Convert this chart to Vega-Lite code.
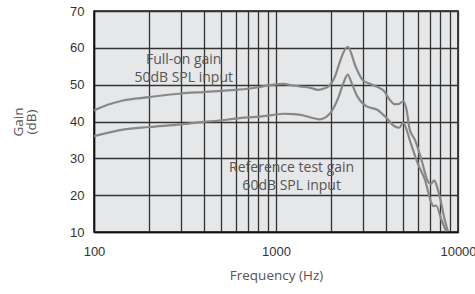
{
  "$schema": "https://vega.github.io/schema/vega-lite/v6.json",
  "autosize": "none",
  "width": 364,
  "height": 221,
  "padding": {"left": 94, "top": 11, "right": 17, "bottom": 62},
  "background": "white",
  "config": {
    "view": {"fill": "#e6e7e8", "stroke": "#111111", "strokeWidth": 1.5},
    "axis": {
      "gridColor": "#333333",
      "gridWidth": 1.3,
      "gridOpacity": 1,
      "domainColor": "#111111",
      "domainWidth": 1.5,
      "ticks": false,
      "labelFont": "Liberation Sans",
      "labelFontSize": 13,
      "labelColor": "#333333",
      "titleFont": "Open Sans",
      "titleFontWeight": "normal",
      "titleFontSize": 13.5,
      "titleColor": "#555555"
    }
  },
  "datasets": {
    "curves": [
      {"freq": 100, "gain": 43.0, "series": "Full-on gain"},
      {"freq": 120, "gain": 44.6, "series": "Full-on gain"},
      {"freq": 144, "gain": 45.7, "series": "Full-on gain"},
      {"freq": 200, "gain": 46.6, "series": "Full-on gain"},
      {"freq": 300, "gain": 47.6, "series": "Full-on gain"},
      {"freq": 400, "gain": 48.0, "series": "Full-on gain"},
      {"freq": 500, "gain": 48.3, "series": "Full-on gain"},
      {"freq": 600, "gain": 48.6, "series": "Full-on gain"},
      {"freq": 700, "gain": 48.9, "series": "Full-on gain"},
      {"freq": 800, "gain": 49.3, "series": "Full-on gain"},
      {"freq": 900, "gain": 49.8, "series": "Full-on gain"},
      {"freq": 1000, "gain": 50.1, "series": "Full-on gain"},
      {"freq": 1100, "gain": 50.2, "series": "Full-on gain"},
      {"freq": 1200, "gain": 49.9, "series": "Full-on gain"},
      {"freq": 1350, "gain": 49.5, "series": "Full-on gain"},
      {"freq": 1530, "gain": 49.2, "series": "Full-on gain"},
      {"freq": 1700, "gain": 48.6, "series": "Full-on gain"},
      {"freq": 1850, "gain": 49.0, "series": "Full-on gain"},
      {"freq": 1970, "gain": 49.8, "series": "Full-on gain"},
      {"freq": 2100, "gain": 52.0, "series": "Full-on gain"},
      {"freq": 2220, "gain": 55.5, "series": "Full-on gain"},
      {"freq": 2350, "gain": 58.8, "series": "Full-on gain"},
      {"freq": 2480, "gain": 60.3, "series": "Full-on gain"},
      {"freq": 2600, "gain": 58.3, "series": "Full-on gain"},
      {"freq": 2700, "gain": 55.7, "series": "Full-on gain"},
      {"freq": 2850, "gain": 53.0, "series": "Full-on gain"},
      {"freq": 3000, "gain": 51.2, "series": "Full-on gain"},
      {"freq": 3300, "gain": 50.2, "series": "Full-on gain"},
      {"freq": 3600, "gain": 49.4, "series": "Full-on gain"},
      {"freq": 3900, "gain": 48.4, "series": "Full-on gain"},
      {"freq": 4200, "gain": 46.0, "series": "Full-on gain"},
      {"freq": 4500, "gain": 44.7, "series": "Full-on gain"},
      {"freq": 4750, "gain": 44.8, "series": "Full-on gain"},
      {"freq": 5000, "gain": 45.5, "series": "Full-on gain"},
      {"freq": 5200, "gain": 43.5, "series": "Full-on gain"},
      {"freq": 5430, "gain": 37.8, "series": "Full-on gain"},
      {"freq": 5800, "gain": 35.0, "series": "Full-on gain"},
      {"freq": 6300, "gain": 29.6, "series": "Full-on gain"},
      {"freq": 6840, "gain": 23.7, "series": "Full-on gain"},
      {"freq": 7100, "gain": 23.0, "series": "Full-on gain"},
      {"freq": 7400, "gain": 24.0, "series": "Full-on gain"},
      {"freq": 7700, "gain": 22.0, "series": "Full-on gain"},
      {"freq": 7930, "gain": 19.7, "series": "Full-on gain"},
      {"freq": 8450, "gain": 13.4, "series": "Full-on gain"},
      {"freq": 8800, "gain": 10.2, "series": "Full-on gain"},
      {"freq": 100, "gain": 36.0, "series": "Reference test gain"},
      {"freq": 144, "gain": 37.8, "series": "Reference test gain"},
      {"freq": 200, "gain": 38.5, "series": "Reference test gain"},
      {"freq": 300, "gain": 39.2, "series": "Reference test gain"},
      {"freq": 400, "gain": 39.9, "series": "Reference test gain"},
      {"freq": 500, "gain": 40.3, "series": "Reference test gain"},
      {"freq": 600, "gain": 40.8, "series": "Reference test gain"},
      {"freq": 700, "gain": 41.1, "series": "Reference test gain"},
      {"freq": 800, "gain": 41.3, "series": "Reference test gain"},
      {"freq": 900, "gain": 41.6, "series": "Reference test gain"},
      {"freq": 1000, "gain": 41.9, "series": "Reference test gain"},
      {"freq": 1100, "gain": 42.1, "series": "Reference test gain"},
      {"freq": 1240, "gain": 42.0, "series": "Reference test gain"},
      {"freq": 1400, "gain": 41.7, "series": "Reference test gain"},
      {"freq": 1550, "gain": 41.1, "series": "Reference test gain"},
      {"freq": 1740, "gain": 40.6, "series": "Reference test gain"},
      {"freq": 1880, "gain": 41.2, "series": "Reference test gain"},
      {"freq": 2000, "gain": 42.5, "series": "Reference test gain"},
      {"freq": 2200, "gain": 46.5, "series": "Reference test gain"},
      {"freq": 2350, "gain": 50.5, "series": "Reference test gain"},
      {"freq": 2480, "gain": 52.7, "series": "Reference test gain"},
      {"freq": 2600, "gain": 50.5, "series": "Reference test gain"},
      {"freq": 2800, "gain": 46.8, "series": "Reference test gain"},
      {"freq": 3150, "gain": 44.1, "series": "Reference test gain"},
      {"freq": 3600, "gain": 43.2, "series": "Reference test gain"},
      {"freq": 4040, "gain": 41.0, "series": "Reference test gain"},
      {"freq": 4480, "gain": 38.7, "series": "Reference test gain"},
      {"freq": 4760, "gain": 38.3, "series": "Reference test gain"},
      {"freq": 4990, "gain": 39.6, "series": "Reference test gain"},
      {"freq": 5500, "gain": 34.1, "series": "Reference test gain"},
      {"freq": 6000, "gain": 28.7, "series": "Reference test gain"},
      {"freq": 6580, "gain": 24.2, "series": "Reference test gain"},
      {"freq": 7140, "gain": 17.9, "series": "Reference test gain"},
      {"freq": 7350, "gain": 17.0, "series": "Reference test gain"},
      {"freq": 7580, "gain": 17.2, "series": "Reference test gain"},
      {"freq": 8100, "gain": 13.4, "series": "Reference test gain"},
      {"freq": 8600, "gain": 10.2, "series": "Reference test gain"}
    ],
    "notes": [
      {"freq": 311, "gain": 56.8, "label": "Full-on gain"},
      {"freq": 311, "gain": 51.8, "label": "50dB SPL input"},
      {"freq": 1219, "gain": 27.3, "label": "Reference test gain"},
      {"freq": 1219, "gain": 22.4, "label": "60dB SPL input"}
    ]
  },
  "encoding": {
    "x": {
      "field": "freq",
      "type": "quantitative",
      "scale": {"type": "log", "domain": [100, 10000], "nice": false},
      "axis": {
        "title": "Frequency (Hz)",
        "values": [100, 200, 300, 400, 500, 600, 700, 800, 900, 1000, 2000, 3000, 4000, 5000, 6000, 7000, 8000, 9000, 10000],
        "format": "d",
        "labelExpr": "datum.value == 100 || datum.value == 1000 || datum.value == 10000 ? datum.label : ''",
        "labelPadding": 13,
        "labelOverlap": false,
        "labelFlush": false,
        "titlePadding": 10
      }
    },
    "y": {
      "field": "gain",
      "type": "quantitative",
      "scale": {"domain": [10, 70], "nice": false, "zero": false},
      "axis": {
        "title": ["Gain", "(dB)"],
        "titleLineHeight": 13,
        "values": [10, 20, 30, 40, 50, 60, 70],
        "tickCount": 7,
        "labelOverlap": false,
        "labelFlush": false,
        "labelBound": false,
        "labelPadding": 10,
        "titlePadding": 31
      }
    }
  },
  "layer": [
    {
      "data": {"name": "curves"},
      "mark": {"type": "line", "interpolate": "monotone", "strokeWidth": 2.2, "clip": true},
      "encoding": {
        "detail": {"field": "series"},
        "color": {"value": "#888888"}
      }
    },
    {
      "data": {"name": "notes"},
      "mark": {"type": "text", "font": "Open Sans", "fontSize": 14, "color": "#555555", "baseline": "middle", "align": "center"},
      "encoding": {
        "text": {"field": "label"}
      }
    }
  ]
}
